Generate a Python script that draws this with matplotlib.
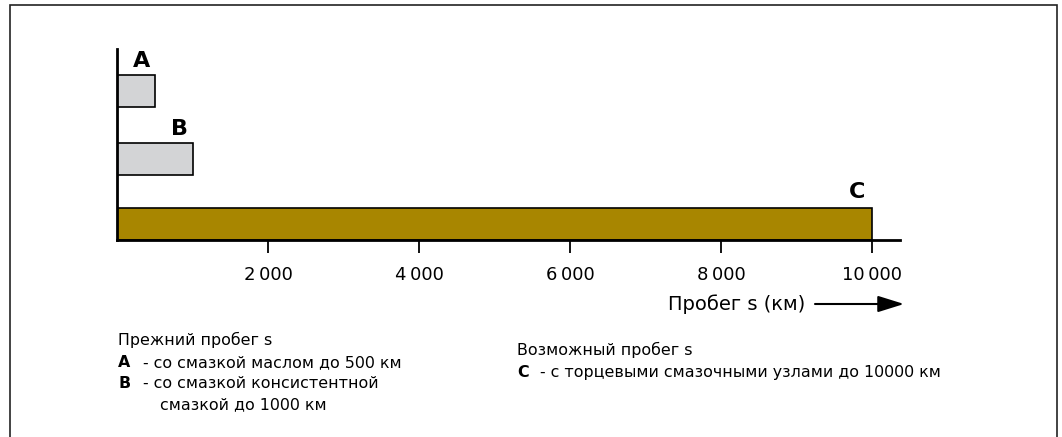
import matplotlib
matplotlib.use("Agg")
import matplotlib.pyplot as plt
from matplotlib.patches import Rectangle

plt.rcParams['font.family'] = ['DejaVu Sans']

# data
labels = ['A', 'B', 'C']
mileage = [500, 1000, 10000]
colors = ['#d3d4d6', '#d3d4d6', '#a88600']
ticks = [2000, 4000, 6000, 8000, 10000]
tick_labels = ['2\u2009000', '4\u2009000', '6\u2009000', '8\u2009000', '10\u2009000']

W, H = 1062, 437
fig = plt.figure(figsize=(W / 100, H / 100), dpi=100)

def fx(px):
    return px / W

def fy(py):
    return 1 - py / H

# outer frame (bottom edge cut off)
fig.add_artist(Rectangle((fx(10), fy(460)), fx(1057) - fx(10), fy(5) - fy(460),
                         transform=fig.transFigure, fill=False, lw=1.2, ec='#222222'))

ax = fig.add_axes([fx(117), fy(240), fx(900) - fx(117), fy(49) - fy(240)])
ax.set_xlim(0, 10000 * (900 - 117) / 755)
ax.set_ylim(0, 191)

# bar bottoms and label spots (layout only)
ypos = [133, 65, 0]
label_x = [331, 834, 9801]
label_y = [173, 105, 42]
for lab, val, c, y0, lx, ly in zip(labels, mileage, colors, ypos, label_x, label_y):
    ax.barh(y0, val, height=32, align='edge', color=c, edgecolor='black', lw=1.2)
    ax.text(lx, ly, lab, ha='center', va='baseline', fontsize=16, fontweight='bold')

for s in ['top', 'right']:
    ax.spines[s].set_visible(False)
ax.spines['left'].set_linewidth(2)
ax.spines['bottom'].set_linewidth(2)
ax.set_yticks([])
ax.set_xticks(ticks)
ax.set_xticklabels(tick_labels, fontsize=13)
ax.tick_params(axis='x', direction='out', length=9, width=1.3, pad=10)

# axis title with arrow
fig.text(fx(805), fy(310), 'Пробег s (км)', ha='right', va='baseline', fontsize=14)
ax.annotate('', xy=(fx(904), fy(304)), xytext=(fx(815), fy(304)),
            xycoords='figure fraction', textcoords='figure fraction',
            arrowprops=dict(arrowstyle='-|>,head_length=1.6,head_width=0.5',
                            lw=1.5, color='black', shrinkA=0, shrinkB=0))

# legend texts
fs = 11.4
fig.text(fx(118), fy(345), 'Прежний пробег s', fontsize=fs, va='baseline')
fig.text(fx(118), fy(367), 'A', fontsize=fs, fontweight='bold', va='baseline')
fig.text(fx(143), fy(367), '- со смазкой маслом до 500 км', fontsize=fs, va='baseline')
fig.text(fx(118), fy(388), 'B', fontsize=fs, fontweight='bold', va='baseline')
fig.text(fx(143), fy(388), '- со смазкой консистентной', fontsize=fs, va='baseline')
fig.text(fx(160), fy(409), 'смазкой до 1000 км', fontsize=fs, va='baseline')

fig.text(fx(517), fy(355), 'Возможный пробег s', fontsize=fs, va='baseline')
fig.text(fx(517), fy(377), 'C', fontsize=fs, fontweight='bold', va='baseline')
fig.text(fx(540), fy(377), '- с торцевыми смазочными узлами до 10000 км', fontsize=fs, va='baseline')

fig.savefig('out.png', dpi=100)
